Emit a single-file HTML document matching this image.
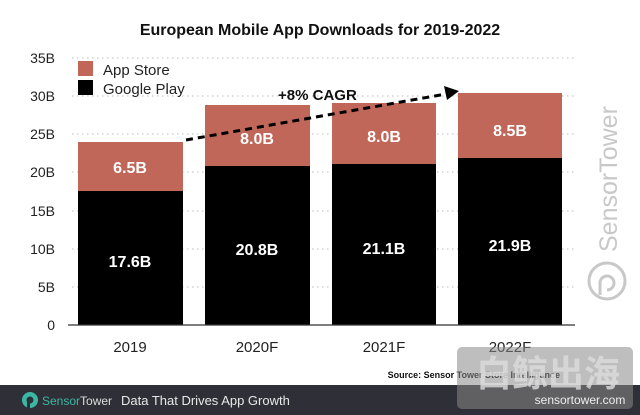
<!DOCTYPE html>
<html><head><meta charset="utf-8"><style>
html,body{margin:0;padding:0;background:#fff;width:640px;height:415px;overflow:hidden}
svg{display:block;font-family:"Liberation Sans",Arial,sans-serif}
</style></head><body>
<svg width="640" height="415" viewBox="0 0 640 415">
<rect width="640" height="415" fill="#fff"/>
<text x="320" y="35" text-anchor="middle" font-size="16" font-weight="bold" fill="#111">European Mobile App Downloads for 2019-2022</text>
<g stroke="#bbb" stroke-width="1" stroke-dasharray="1.5,3.5">
<line x1="72" x2="575" y1="58" y2="58"/><line x1="72" x2="575" y1="96" y2="96"/>
<line x1="72" x2="575" y1="134" y2="134"/><line x1="72" x2="575" y1="172" y2="172"/>
<line x1="72" x2="575" y1="211" y2="211"/><line x1="72" x2="575" y1="249" y2="249"/>
<line x1="72" x2="575" y1="287" y2="287"/>
</g>
<g font-size="14" fill="#222" text-anchor="end">
<text x="55" y="63">35B</text><text x="55" y="101">30B</text><text x="55" y="139">25B</text>
<text x="55" y="177">20B</text><text x="55" y="216">15B</text><text x="55" y="254">10B</text>
<text x="55" y="292">5B</text><text x="55" y="330">0</text>
</g>
<g fill="#c0675a">
<rect x="78" y="142" width="105" height="50"/><rect x="205" y="105" width="105" height="62"/>
<rect x="332" y="103" width="104" height="62"/><rect x="458" y="93" width="104" height="66"/>
</g>
<g fill="#000">
<rect x="78" y="191" width="105" height="134"/><rect x="205" y="166" width="105" height="159"/>
<rect x="332" y="164" width="104" height="161"/><rect x="458" y="158" width="104" height="167"/>
</g>
<line x1="68" x2="575" y1="325" y2="325" stroke="#333" stroke-width="1.2"/>
<g fill="#fff" font-size="16" font-weight="bold" text-anchor="middle">
<text x="130" y="173">6.5B</text><text x="257" y="144">8.0B</text>
<text x="384" y="142">8.0B</text><text x="510" y="136">8.5B</text>
<text x="130" y="267">17.6B</text><text x="257" y="255">20.8B</text>
<text x="384" y="254">21.1B</text><text x="510" y="251">21.9B</text>
</g>
<g fill="#222" font-size="15" text-anchor="middle">
<text x="130" y="352">2019</text><text x="257" y="352">2020F</text>
<text x="384" y="352">2021F</text><text x="510" y="352">2022F</text>
</g>
<rect x="78" y="61" width="15" height="15" fill="#c0675a"/>
<rect x="78" y="80" width="15" height="15" fill="#000"/>
<text x="103" y="75" font-size="15" fill="#222">App Store</text>
<text x="103" y="94" font-size="15" fill="#222">Google Play</text>
<line x1="186" y1="140" x2="446" y2="94" stroke="#000" stroke-width="3" stroke-dasharray="7,5"/>
<polygon points="459,91 444,86 447,100" fill="#000"/>
<text x="278" y="100" font-size="15" font-weight="bold" fill="#111">+8% CAGR</text>
<text x="560" y="378" text-anchor="end" font-size="9" font-weight="bold" fill="#111">Source: Sensor Tower Store Intelligence</text>
<g fill="none" stroke="#c8c8c8" stroke-width="3">
<circle cx="607" cy="281" r="18"/>
<path d="M600 295 V283 a7 7 0 1 1 7 7"/>
</g>
<text transform="translate(617,252) rotate(-90)" font-size="25" fill="#c8c8c8">SensorTower</text>
<rect x="0" y="385" width="640" height="30" fill="#2f3037"/>
<circle cx="30" cy="400" r="8" fill="#3bb8a3"/>
<circle cx="30" cy="400" r="3.5" fill="#2f3037"/>
<rect x="27" y="400" width="3" height="8" fill="#2f3037"/>
<text x="42" y="405" font-size="12" fill="#3bb8a3">Sensor<tspan fill="#ddd">Tower</tspan></text>
<text x="121" y="405" font-size="13" fill="#e8e8e8">Data That Drives App Growth</text>
<rect x="457" y="347" width="176" height="62" rx="5" fill="#888" opacity="0.55"/>
<text x="548" y="386" text-anchor="middle" font-size="36" font-weight="bold" fill="#ddd" opacity="0.8" font-family="'Noto Sans CJK SC',sans-serif">白鲸出海</text>
<text x="580" y="404" text-anchor="middle" font-size="12" fill="#eee">sensortower.com</text>
</svg>
</body></html>
